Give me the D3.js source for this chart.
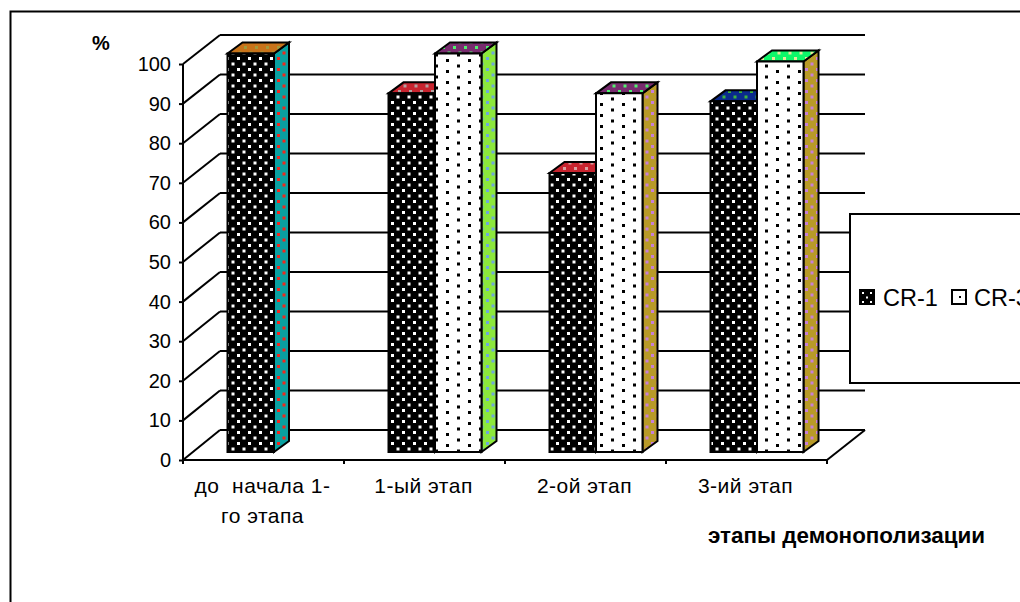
<!DOCTYPE html>
<html>
<head>
<meta charset="utf-8">
<script src="https://cdn.jsdelivr.net/npm/d3@7/dist/d3.min.js"></script>
<style>
  html, body { margin: 0; padding: 0; background: #fff; overflow: hidden; }
  svg { display: block; }
  text { font-family: "Liberation Sans", Arial, sans-serif; fill: #000; }
</style>
</head>
<body>
<svg id="chart" width="1020" height="602"></svg>
<script>
// Chart data
const categoryLines = [["до  начала 1-", "го этапа"], ["1-ый этап"], ["2-ой этап"], ["3-ий этап"]];
const categories = categoryLines.map(l => l.join(" "));
const seriesNames = ["CR-1", "CR-3"];
const cr1Values = [100, 90, 70, 88];
const cr3Values = [null, 100, 90, 98];
const yTicks = [0, 10, 20, 30, 40, 50, 60, 70, 80, 90, 100];
const axisTitleY = "%";
const axisTitleX = "этапы демонополизации";

// Face colours, one per column: [fill, dot colour]
const cr1Tops = [["#C8731A", "#A09A3C"], ["#C8242F", "#B4A0A0"], ["#C8242F", "#D8A0A0"], ["#0A2A8C", "#3CB43C"]];
const cr1Sides = [["#0AA0A0", "#F0281E"], ["#8CE83C", "#6FA8DC"], ["#B89A28", "#C77FD8"], ["#B89A28", "#C77FD8"]];
const cr3Tops = [null, ["#782B6E", "#50F06E"], ["#782B6E", "#50F06E"], ["#0EF86A", "#E8E89A"]];
const cr3Sides = [null, ["#8CE83C", "#6FA8DC"], ["#B89A28", "#C77FD8"], ["#B89A28", "#C77FD8"]];

const svg = d3.select("#chart");
const defs = svg.append("defs");

// Dotted fills
function dotPattern(id, bg, dot, w, h, size, px, py) {
  const p = defs.append("pattern").attr("id", id)
    .attr("patternUnits", "userSpaceOnUse")
    .attr("width", w).attr("height", h)
    .attr("patternTransform", `translate(${px},${py})`);
  p.append("rect").attr("width", w).attr("height", h).attr("fill", bg);
  p.append("rect").attr("x", 0).attr("y", 0).attr("width", size).attr("height", size).attr("fill", dot);
  p.append("rect").attr("x", w / 2).attr("y", h / 2).attr("width", size).attr("height", size).attr("fill", dot);
}
dotPattern("dark", "#000", "#fff", 11, 11, 3, 237, 57);
dotPattern("light", "#fff", "#000", 22, 11, 3, 446, 92);
dotPattern("darkKey", "#000", "#fff", 8, 9, 2, 862, 292);
dotPattern("lightKey", "#fff", "#000", 22, 22, 2, 959, 296);

function facePattern(pair, id) {
  dotPattern(id, pair[0], pair[1], 11, 11, 3, 2, 2);
  return `url(#${id})`;
}

// Scales: the axis sits on the front edge, the walls are shifted back, and
// the columns stand between the two planes.
const x = d3.scaleBand(categories, [183, 827]);
const inner = d3.scaleBand(seriesNames, [44.5, 137.5]);
const yFront = d3.scaleLinear([0, 100], [460, 64]);
const yBack = d3.scaleLinear([0, 100], [430, 35]);
const yBar = d3.scaleLinear([0, 100], [452, 53.5]);
const wallX = 220, wallRight = 865;
const depthX = 15, depthY = 11;

const line = d3.line();
const black = { stroke: "#000", "stroke-width": 2, fill: "none" };
function styled(sel, attrs) { Object.entries(attrs).forEach(([k, v]) => sel.attr(k, v)); return sel; }

// Outer frame, running off the right and bottom of the page
svg.append("rect").attr("x", 10.5).attr("y", 11.5).attr("width", 1200).attr("height", 800)
  .attr("fill", "#fff").attr("stroke", "#000").attr("stroke-width", 2);

// Back wall lines and the slanted side wall lines
const grid = svg.append("g");
styled(grid.selectAll("line.back").data(yTicks).join("line").attr("class", "back")
  .attr("x1", wallX).attr("x2", wallRight)
  .attr("y1", d => yBack(d)).attr("y2", d => yBack(d)), black);
styled(grid.selectAll("line.side").data(yTicks).join("line").attr("class", "side")
  .attr("x1", x.range()[0]).attr("x2", wallX)
  .attr("y1", d => yFront(d)).attr("y2", d => yBack(d)), black);

// Right edge of the floor
styled(svg.append("path").attr("d", line([
  [x.range()[1], yFront(0)], [wallRight, yBack(0)]
])), black);

// Y axis
const yAxis = svg.append("g").attr("transform", `translate(${x.range()[0]},0)`)
  .call(d3.axisLeft(yFront).tickValues(yTicks).tickSize(4).tickPadding(8).tickFormat(d3.format("d")));
yAxis.selectAll("path, line").attr("stroke", "#000").attr("stroke-width", 2);
yAxis.select("path").attr("d", line([[0, yFront(0)], [0, yFront(100)]]));
yAxis.selectAll("text").attr("font-size", 20).attr("font-family", "Liberation Sans");

// X axis with ticks between the categories
const xEdges = categories.map(c => x(c)).concat(x.range()[1]);
const xAxis = svg.append("g");
styled(xAxis.append("line").attr("x1", x.range()[0]).attr("x2", x.range()[1])
  .attr("y1", yFront(0)).attr("y2", yFront(0)), black);
styled(xAxis.selectAll("line.tick").data(xEdges).join("line").attr("class", "tick")
  .attr("x1", d => d).attr("x2", d => d)
  .attr("y1", yFront(0)).attr("y2", yFront(0) + 4), black);

// One column: side, top, front
function column(g, cat, name, value, frontFill, topFill, sideFill) {
  const x0 = x(cat) + inner(name);
  const x1 = x0 + inner.bandwidth();
  const top = yBar(value), base = yBar(0);
  const faces = [
    [sideFill, [[x1, base], [x1 + depthX, base - depthY], [x1 + depthX, top - depthY], [x1, top]]],
    [topFill, [[x0, top], [x0 + depthX, top - depthY], [x1 + depthX, top - depthY], [x1, top]]],
    [frontFill, [[x0, base], [x0, top], [x1, top], [x1, base]]]
  ];
  g.selectAll(null).data(faces).join("path")
    .attr("d", d => line(d[1]) + "Z")
    .attr("fill", d => d[0])
    .attr("stroke", "#000").attr("stroke-width", 2).attr("stroke-linejoin", "miter");
}

const bars = svg.append("g");
categories.forEach((cat, i) => {
  column(bars.append("g"), cat, "CR-1", cr1Values[i], "url(#dark)",
    facePattern(cr1Tops[i], `t1-${i}`), facePattern(cr1Sides[i], `s1-${i}`));
  if (cr3Values[i] !== null) {
    column(bars.append("g"), cat, "CR-3", cr3Values[i], "url(#light)",
      facePattern(cr3Tops[i], `t3-${i}`), facePattern(cr3Sides[i], `s3-${i}`));
  }
});

// Category labels
categories.forEach((cat, i) => {
  const cx = x(cat) + x.bandwidth() / 2;
  categoryLines[i].forEach((txt, j) => {
    svg.append("text").attr("x", cx - 1).attr("y", 493 + j * 30)
      .attr("text-anchor", "middle").attr("font-size", 21).attr("letter-spacing", 0.5)
      .attr("xml:space", "preserve").style("white-space", "pre").text(txt);
  });
});

// Axis titles
svg.append("text").attr("x", 101).attr("y", 50).attr("text-anchor", "middle")
  .attr("font-size", 20).attr("font-weight", "bold").text(axisTitleY);
svg.append("text").attr("x", 846.5).attr("y", 543).attr("text-anchor", "middle")
  .attr("font-size", 22.4).attr("font-weight", "bold").text(axisTitleX);

// Legend, cut by the right edge of the page
svg.append("rect").attr("x", 850).attr("y", 214).attr("width", 300).attr("height", 169)
  .attr("fill", "#fff").attr("stroke", "#000").attr("stroke-width", 2);
const legendItems = [
  { name: seriesNames[0], fill: "url(#darkKey)", sx: 860, tx: 883 },
  { name: seriesNames[1], fill: "url(#lightKey)", sx: 952, tx: 974 }
];
legendItems.forEach(d => {
  svg.append("rect").attr("x", d.sx).attr("y", 290).attr("width", 14).attr("height", 14)
    .attr("fill", d.fill).attr("stroke", "#000").attr("stroke-width", 2);
  svg.append("text").attr("x", d.tx).attr("y", 306).attr("font-size", 23.5).text(d.name);
});
</script>
</body>
</html>
